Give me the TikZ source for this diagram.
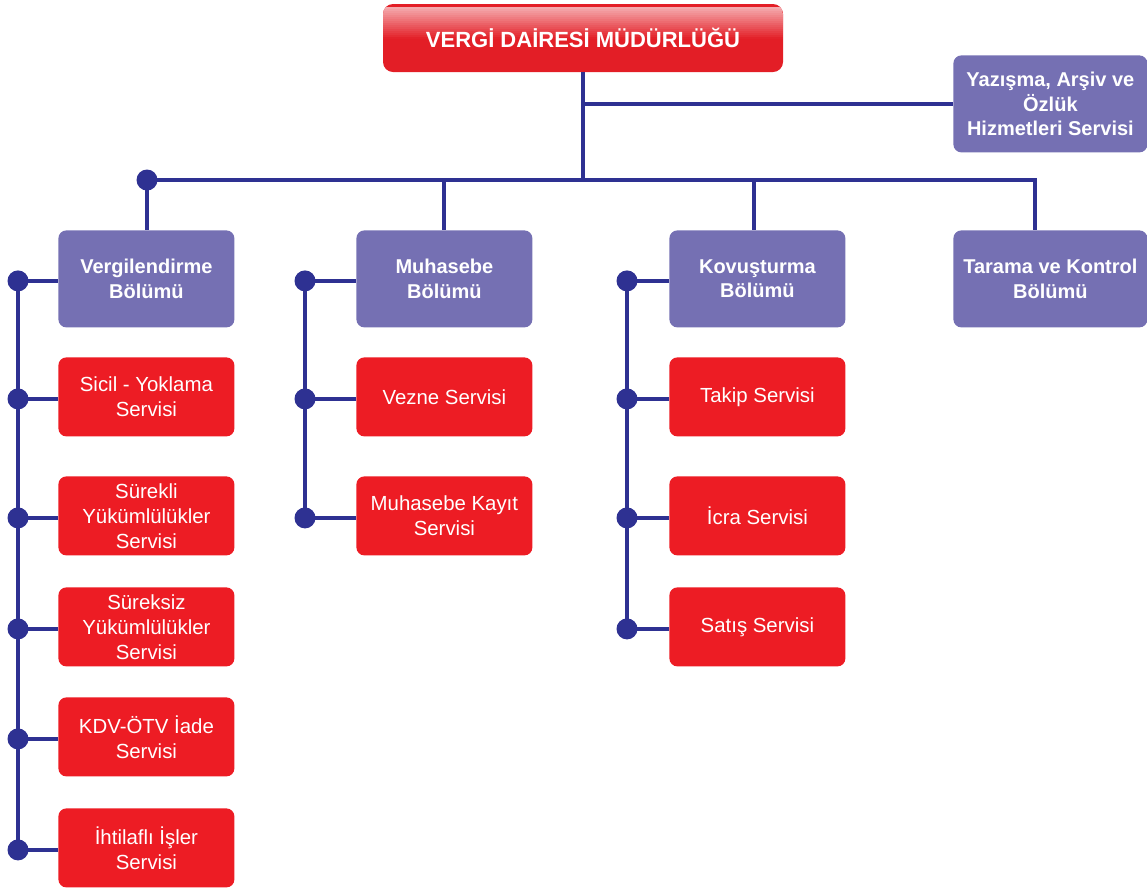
\documentclass[tikz,border=0pt]{standalone}
\usepackage{fontspec}
\setmainfont{Liberation Sans}
\usetikzlibrary{positioning}
\definecolor{deptcol}{HTML}{7570B3}
\definecolor{unitcol}{HTML}{ED1C24}
\definecolor{headcol}{HTML}{E31E26}
\definecolor{linecol}{HTML}{2E3192}
\tikzset{
  headbox/.style={fill=headcol, text=white, rounded corners=5pt,
    font=\bfseries\fontsize{11}{13}\selectfont,
    minimum width=200pt, minimum height=34pt,
    path picture={
      \foreach \k [evaluate=\k as \p using {int(62-4*\k)}] in {0,...,15}
        \fill[white!\p!headcol, sharp corners]
          ([yshift=-1.5pt-\k*1pt]path picture bounding box.north west)
          rectangle ([yshift=-2.6pt-\k*1pt]path picture bounding box.north east);}},
  deptbox/.style={fill=deptcol, text=white, rounded corners=4pt, align=center,
    font=\bfseries\fontsize{10}{12.2}\selectfont, inner sep=1pt,
    minimum width=88pt, minimum height=48.5pt, anchor=north west},
  unitbox/.style={fill=unitcol, text=white, rounded corners=4pt, align=center,
    font=\fontsize{10.2}{12.6}\selectfont, inner sep=1pt,
    minimum width=88pt, minimum height=39.5pt, anchor=north west},
  link/.style={draw=linecol, line width=2pt},
  dot/.style={circle, fill=linecol, inner sep=0pt, minimum size=10.5pt}
}

\begin{document}
\begin{tikzpicture}[x=0.5pt, y=-0.5pt]

        \useasboundingbox (0,0) rectangle (1147,890);

        % Head
        \node[headbox] (head) at (583,38) {VERGİ DAİRESİ MÜDÜRLÜĞÜ};
        \node[deptbox, minimum width=97pt] (arsiv) at (953,55)
            {Yazışma, Arşiv ve\\Özlük\\Hizmetleri Servisi};

        % Departments
        \node[deptbox] (vergi) at (58,230) {Vergilendirme\\Bölümü};
        \node[deptbox] (muhasebe) at (356,230) {Muhasebe\\Bölümü};
        \node[deptbox] (kovus) at (669,230) {Kovuşturma\\Bölümü};
        \node[deptbox, minimum width=97pt] (tarama) at (953,230) {Tarama ve Kontrol\\Bölümü};

        % Services
        \node[unitbox] (v1) at (58,357) {Sicil - Yoklama\\Servisi};
        \node[unitbox] (v2) at (58,476) {Sürekli\\Yükümlülükler\\Servisi};
        \node[unitbox] (v3) at (58,587) {Süreksiz\\Yükümlülükler\\Servisi};
        \node[unitbox] (v4) at (58,697) {KDV-ÖTV İade\\Servisi};
        \node[unitbox] (v5) at (58,808) {İhtilaflı İşler\\Servisi};

        \node[unitbox] (m1) at (356,357) {Vezne Servisi};
        \node[unitbox] (m2) at (356,476) {Muhasebe Kayıt\\Servisi};

        \node[unitbox] (k1) at (669,357) {Takip Servisi};
        \node[unitbox] (k2) at (669,476) {İcra Servisi};
        \node[unitbox] (k3) at (669,587) {Satış Servisi};

        % Bus
        \coordinate (busL) at (147,180);
        \coordinate (busR) at (1035,180);
        \draw[link] (head.south) -- (head.south |- busL);
        \draw[link] (head.south) |- (arsiv.west);
        \draw[link] (busL) -- (busR) -- (busR |- tarama.north);
        \draw[link] (busL) -- (busL |- vergi.north);
        \draw[link] (muhasebe.north |- busL) -- (muhasebe.north);
        \draw[link] ([xshift=-1.5pt]kovus.north |- busL) -- ([xshift=-1.5pt]kovus.north);
        \node[dot] at (busL) {};

        % Spines
        \foreach \top/\bot/\gap/\list in {vergi/v5/40/{vergi,v1,v2,v3,v4,v5},
                                          muhasebe/m2/51/{muhasebe,m1,m2},
                                          kovus/k3/42/{kovus,k1,k2,k3}} {
            \draw[link] ([xshift=-\gap*0.5pt, yshift=-1.5pt]\top.west)
                     -- ([xshift=-\gap*0.5pt, yshift=-2pt]\bot.west);
            \foreach \b in \list {
                \draw[link] (\b.west) ++(0,2) -- ++(-\gap,0) node[dot] {};
            }
        }

    \end{tikzpicture}
\end{document}
